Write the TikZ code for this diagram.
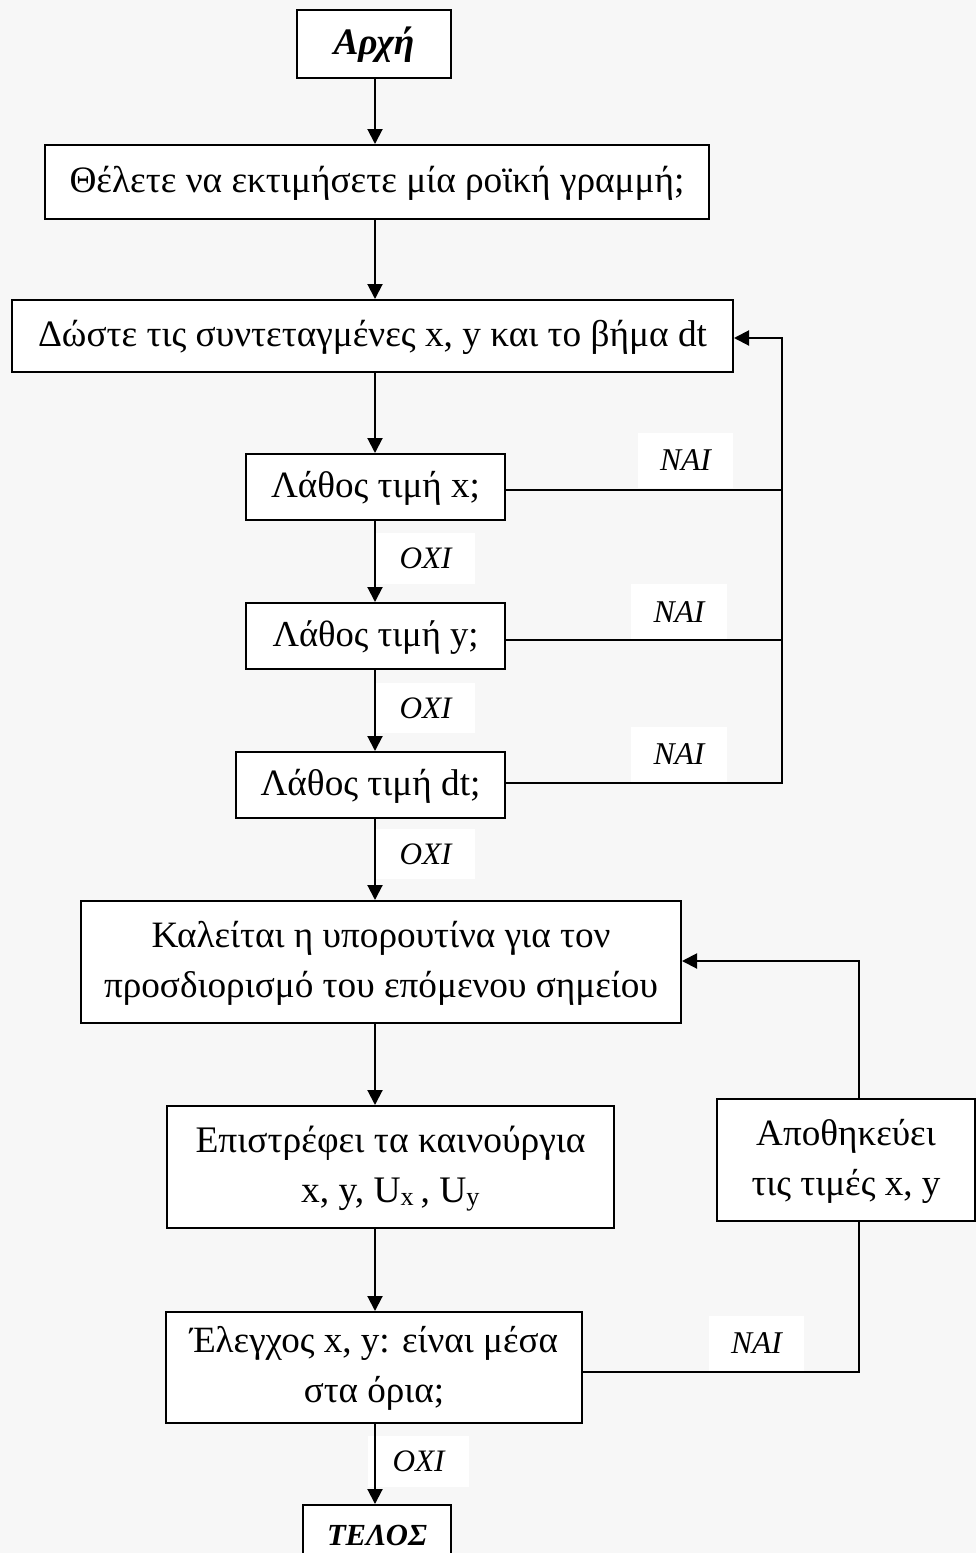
\documentclass[tikz,border=0pt]{standalone}
\usepackage{fontspec}
\setmainfont{Liberation Serif}
\usetikzlibrary{arrows.meta}
\definecolor{bggray}{HTML}{F7F7F7}
\newlength\fitlen
\newcommand\fittext[3]{%
  \settowidth\fitlen{\fontsize{10pt}{12pt}\selectfont #2}%
  \pgfmathsetmacro\fitfs{10*#1/\fitlen}%
  \fontsize{\fitfs pt}{50pt}\selectfont
  \begin{tabular}{@{}c@{}}#3\end{tabular}}
\tikzset{
  stepbox/.style={draw=black, line width=2pt, fill=white, inner sep=0pt},
  lab/.style={fill=white, inner sep=0pt},
  ln/.style={line width=2pt, draw=black},
  arr/.style={-{Triangle[width=15pt,length=15pt]}},
}
\begin{document}
\begin{tikzpicture}[x=1pt,y=-1pt]
\useasboundingbox (0,0) rectangle (976,1553);
\fill[bggray] (0,0) rectangle (976,1553);

% labels (drawn first so connectors lie over them)
\node[lab, minimum width=95pt, minimum height=55pt] (nai1) at (685.5,460.5) {\fittext{51}{\itshape ΝΑΙ}{\itshape ΝΑΙ}};
\node[lab, minimum width=96pt, minimum height=56pt] (nai2) at (679,612) {\fittext{51}{\itshape ΝΑΙ}{\itshape ΝΑΙ}};
\node[lab, minimum width=96pt, minimum height=55pt] (nai3) at (679,754.5) {\fittext{51}{\itshape ΝΑΙ}{\itshape ΝΑΙ}};
\node[lab, minimum width=95pt, minimum height=55pt] (nai4) at (756.5,1343.5) {\fittext{51}{\itshape ΝΑΙ}{\itshape ΝΑΙ}};
\node[lab, minimum width=99pt, minimum height=51pt] (oxi1) at (425.5,558.5) {\fittext{52}{\itshape ΟΧΙ}{\itshape ΟΧΙ}};
\node[lab, minimum width=99pt, minimum height=50pt] (oxi2) at (425.5,708) {\fittext{52}{\itshape ΟΧΙ}{\itshape ΟΧΙ}};
\node[lab, minimum width=99pt, minimum height=50pt] (oxi3) at (425.5,854) {\fittext{52}{\itshape ΟΧΙ}{\itshape ΟΧΙ}};
\node[lab, minimum width=101pt, minimum height=51pt] (oxi4) at (418.5,1461.5) {\fittext{52}{\itshape ΟΧΙ}{\itshape ΟΧΙ}};

% boxes
\node[stepbox, minimum width=154pt, minimum height=68pt] (start) at (374,44) {\fittext{81}{\bfseries\itshape Αρχή}{\bfseries\itshape Αρχή}};
\node[stepbox, minimum width=664pt, minimum height=74pt] (q1) at (377,182) {\fittext{615}{Θέλετε να εκτιμήσετε μία ροϊκή γραμμή;}{Θέλετε να εκτιμήσετε μία ροϊκή γραμμή;}};
\node[stepbox, minimum width=721pt, minimum height=72pt] (input) at (372.5,336) {\fittext{669}{Δώστε τις συντεταγμένες x, y και το βήμα dt}{Δώστε τις συντεταγμένες x, y και το βήμα dt}};
\node[stepbox, minimum width=259pt, minimum height=66pt] (ex) at (375.5,487) {\fittext{209}{Λάθος τιμή x;}{Λάθος τιμή x;}};
\node[stepbox, minimum width=259pt, minimum height=66pt] (ey) at (375.5,636) {\fittext{206}{Λάθος τιμή y;}{Λάθος τιμή y;}};
\node[stepbox, minimum width=269pt, minimum height=66pt] (edt) at (370.5,785) {\fittext{220}{Λάθος τιμή dt;}{Λάθος τιμή dt;}};
\node[stepbox, minimum width=600pt, minimum height=122pt] (call) at (381,962) {\fittext{554}{προσδιορισμό του επόμενου σημείου}{Καλείται η υπορουτίνα για τον\\προσδιορισμό του επόμενου σημείου}};
\node[stepbox, minimum width=447pt, minimum height=122pt] (ret) at (390.5,1167) {\fittext{390}{Επιστρέφει τα καινούργια}{Επιστρέφει τα καινούργια\\x, y, U\textsubscript{x}\,, U\textsubscript{y}}};
\node[stepbox, minimum width=258pt, minimum height=122pt] (store) at (846,1160) {\fittext{189}{τις τιμές x, y}{Αποθηκεύει\\τις τιμές x, y}};
\node[stepbox, minimum width=416pt, minimum height=111pt] (check) at (374,1367.5) {\fittext{368}{Έλεγχος x, y: είναι μέσα}{Έλεγχος x, y: είναι μέσα\\στα όρια;}};
\node[stepbox, minimum width=148pt, minimum height=60pt] (telos) at (377,1535) {\fittext{100}{\bfseries\itshape ΤΕΛΟΣ}{\bfseries\itshape ΤΕΛΟΣ}};

% main vertical flow
\coordinate (m) at (375,0);
\foreach \a/\b in {start/q1, q1/input, input/ex, ex/ey, ey/edt, edt/call, call/ret, ret/check, check/telos}
  \draw[ln,arr] (\a.south -| m) -- (\b.north -| m);

% error feedback loop
\coordinate (r1) at (782,490);
\coordinate (r2) at (782,640);
\coordinate (r3) at (782,783);
\coordinate (rtop) at (782,338);
\draw[ln] (r1 -| ex.east) -- (r1);
\draw[ln] (r2 -| ey.east) -- (r2);
\draw[ln,arr] (r3 -| edt.east) -- (r3) -- (rtop) -- (rtop -| input.east);

% store loop
\coordinate (s1) at (859,1372);
\coordinate (s2) at (859,961);
\draw[ln] (s1 -| check.east) -- (s1) -- (s1 |- store.south);
\draw[ln,arr] (s2 |- store.north) -- (s2) -- (s2 -| call.east);
\end{tikzpicture}
\end{document}
